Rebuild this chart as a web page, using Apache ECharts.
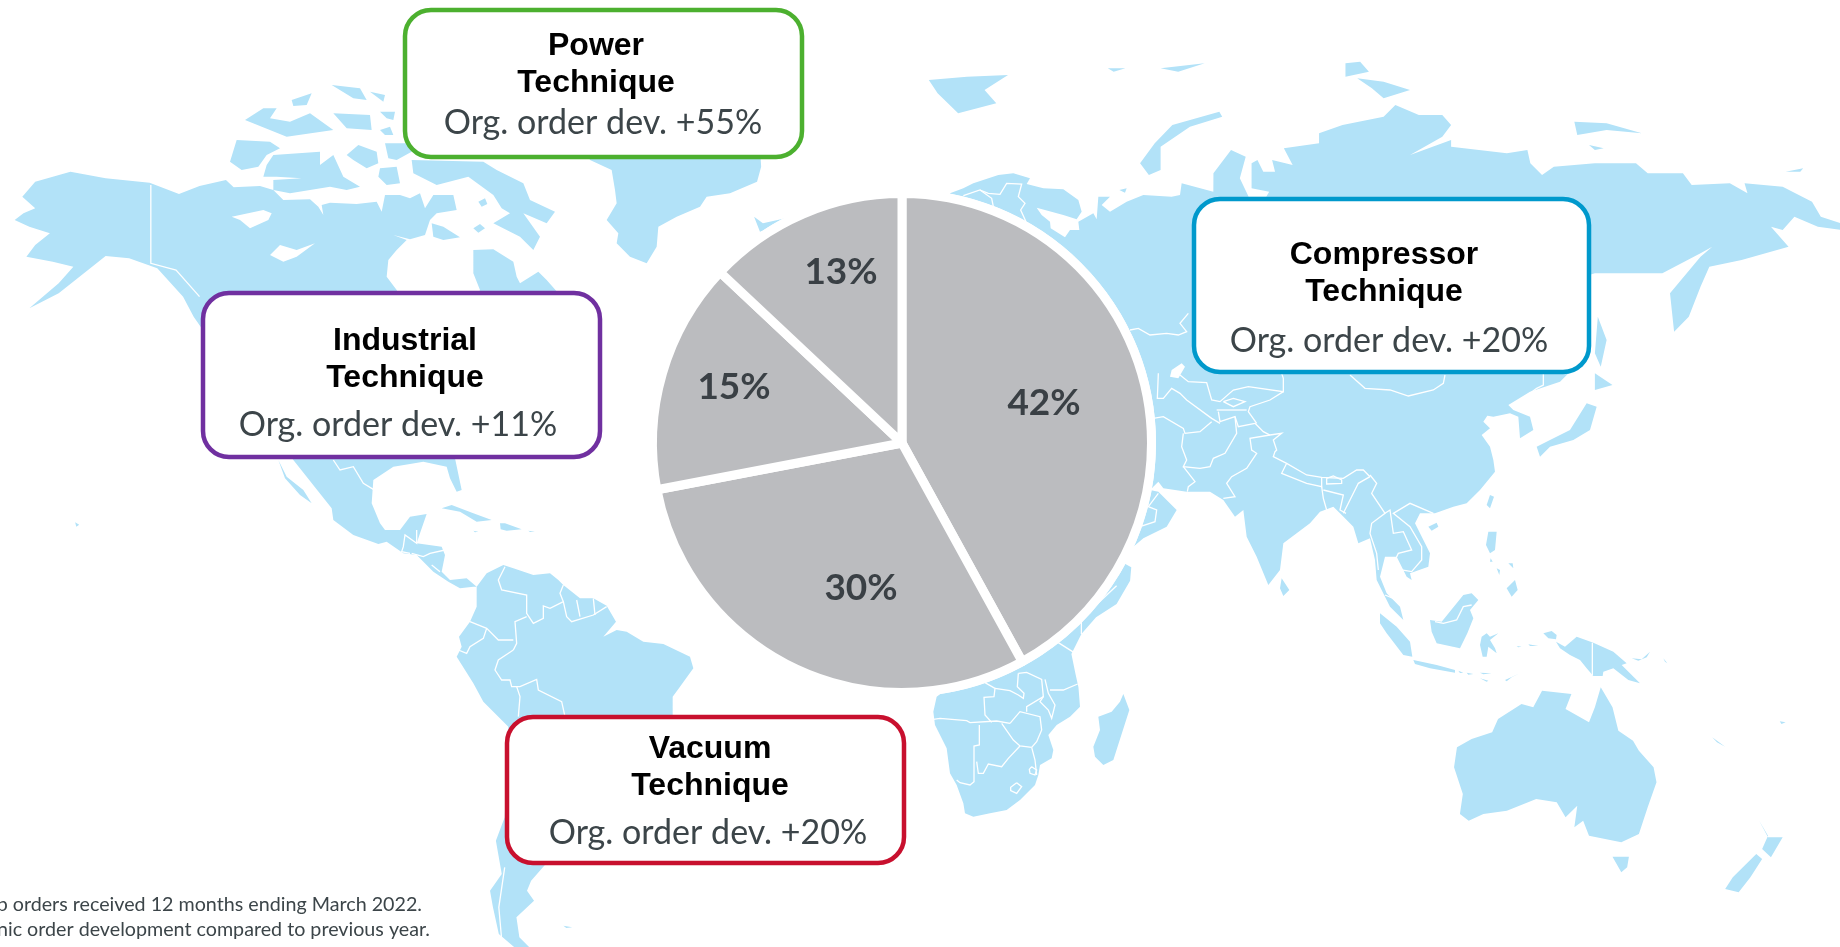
<!DOCTYPE html>
<html>
<head>
<meta charset="utf-8">
<title>Orders by business area</title>
<script src="https://cdn.jsdelivr.net/npm/echarts@6/dist/echarts.min.js"></script>
<style>
    html, body { margin: 0; padding: 0; background: #fff; }
    #chart { width: 1840px; height: 947px; }
</style>
</head>
<body>
<div id="chart"></div>
<script>
// pie
var segments = ['Compressor Technique', 'Vacuum Technique', 'Industrial Technique', 'Power Technique'];
var shares = [42, 30, 15, 13];

// call-out boxes
var boxTitles = [['Power', 'Technique'], ['Industrial', 'Technique'], ['Compressor', 'Technique'], ['Vacuum', 'Technique']];
var boxDev = ['Org. order dev. +55%', 'Org. order dev. +11%', 'Org. order dev. +20%', 'Org. order dev. +20%'];
var notes = ['Share of Group orders received 12 months ending March 2022.', 'Org. order dev. = Organic order development compared to previous year.'];

function t(ox, oy, sx, sy, pts) {
    return pts.map(function (p) { return [p[0] / sx + ox, p[1] / sy + oy]; });
}
function z1(p) { return t(0, 0, 1.704, 3, p); }
function z2(p) { return t(920, 0, 1.704, 3, p); }
function z3(p) { return t(0, 474, 1.704, 3, p); }
function z4(p) { return t(920, 474, 1.704, 3, p); }
function z5(p) { return t(230, 80, 3, 3, p); }
function z6(p) { return t(260, 440, 3, 3, p); }
function z7(p) { return t(1100, 350, 3, 3, p); }
function z8(p) { return t(930, 160, 3, 3, p); }
function z9(p) { return t(1380, 520, 3, 3, p); }
function z10(p) { return t(920, 660, 3, 3, p); }

var northAmerica = [].concat(
    z1([[25,660],[40,640],[60,625],[38,590],[60,545],[120,515],[180,535],[255,548],[305,582],[340,558],[385,540],[400,565]]),
    z5([[10,322],[90,318],[130,330],[160,360],[240,358],[265,380],[280,405],[275,375],[300,368],[380,372],[440,365],[455,395],[465,345],[510,345],[540,355],[570,340],[585,385],[610,345],[670,345],[680,390],[620,400],[600,420],[585,465],[540,478],[490,465],[530,480],[500,510],[475,540],[470,590],[500,630],[530,700],[720,700],[750,630],[730,580],[730,510],[790,508],[850,545],[860,590],[870,610],[925,575],[950,600],[985,640],[1000,700]]),
    z6([[585,55],[605,150],[590,155],[570,115],[560,80],[490,65],[450,72],[400,80],[340,120],[335,190],[360,250],[375,270],[420,270],[450,230],[500,222],[480,280],[470,310],[545,320],[555,345],[545,395],[570,420],[620,415],[650,440],[640,440],[600,445],[565,425],[520,395],[470,345],[430,340],[380,305],[355,312],[280,285],[220,240],[215,205],[100,60]]),
    z1([[330,950],[312,890],[268,805],[220,775],[180,768],[150,810],[100,880],[50,925],[100,850],[125,800],[90,785],[45,770],[60,735],[85,700],[50,680]])
);
var southAmerica = [].concat(
    z6([[650,440],[680,400],[730,375],[760,385],[820,405],[870,400],[895,420],[910,435],[960,475],[1000,475],[1040,497],[1068,545],[1030,590],[1070,570],[1100,575],[1150,605],[1210,612],[1290,650],[1300,685],[1260,740],[1238,770],[1238,830]]),
    z3([[930,1170],[905,1220],[898,1250],[910,1280],[880,1330],[885,1390],[905,1425],[880,1425],[850,1380],[840,1300],[835,1250],[855,1200],[845,1100],[860,1030]]),
    z6([[745,860],[670,785],[640,730],[590,650],[605,620],[597,590],[630,545],[650,500]])
);
var eurasia = [].concat(
    z8([[60,100],[100,85],[130,70],[205,45],[250,40],[300,55],[290,72],[340,85],[400,88],[445,120],[455,155],[440,178],[400,165],[320,143],[335,165],[360,185],[362,205],[405,232],[420,210],[448,210],[445,185],[490,160],[500,178],[505,110],[540,110],[515,135],[540,155],[590,125],[640,105],[725,110],[750,105],[755,70],[850,95]]),
    z2([[500,520],[530,450],[555,470],[545,535],[560,590],[590,590],[595,575],[565,565],[565,490],[575,480],[585,515],[605,515],[600,480],[635,495],[620,445],[680,430],[680,400],[720,375],[790,350],[810,315],[850,345],[890,345],[905,375],[890,410],[835,465],[905,420],[905,440],[1000,460],[1035,450],[1040,490],[1060,525],[1080,500],[1150,490],[1220,490],[1240,520],[1300,520],[1315,555],[1380,550],[1410,580],[1405,550],[1470,560],[1520,605],[1535,650],[1570,670],[1570,690],[1530,680],[1490,650],[1470,690],[1450,680],[1480,740],[1400,780],[1345,800],[1330,860],[1310,950],[1285,995],[1278,880],[1330,770],[1350,740],[1330,760],[1265,820],[1150,820],[1130,830],[1130,1100]]),
    z7([[1410,65],[1380,95],[1335,110],[1290,125],[1225,165],[1240,180],[1290,200],[1300,240],[1260,265],[1255,200],[1230,190],[1180,200],[1120,190],[1190,155],[1150,215],[1170,235],[1145,255],[1170,290],[1180,330],[1185,365],[1140,420],[1100,460],[1060,470],[1005,490],[960,490],[945,520],[990,610],[985,650],[930,670],[935,690],[920,680],[890,620],[855,620],[840,680],[860,730],[900,770],[910,810],[870,770],[830,690],[825,630],[810,565],[775,580],[760,530],[720,490],[700,470],[660,485],[630,520],[550,580],[540,660],[505,705],[470,620],[440,560],[430,480],[405,500],[370,450],[330,425],[260,425],[190,415],[175,395],[150,420],[175,425],[230,480],[200,530],[130,565],[100,590]]),
    [[902, 442]]
);
var africa = [[902, 442]].concat(
    z4([[360,280],[358,320],[335,390],[300,430],[275,480],[258,540],[265,600],[270,640]]),
    z10([[475,80],[480,140],[450,170],[410,195],[385,225],[400,270],[395,295],[360,315],[355,345],[345,375],[300,420],[260,450],[210,460],[160,470],[135,460],[130,430],[110,375],[90,340],[80,265],[45,195],[40,155],[50,110],[70,95]])
);
var greenland = [].concat(
    z5([[1080,240],[1145,270],[1155,330],[1160,370],[1130,420],[1165,460],[1160,490],[1200,530],[1250,550],[1280,500],[1285,440],[1340,410],[1410,380],[1430,350],[1500,340]]),
    z1([[1290,545],[1297,500],[1290,300],[1000,300],[1005,480]])
);
var australia = z4([[1160,640],[1180,700],[1190,770],[1215,800],[1225,830],[1250,880],[1255,925],[1240,1000],[1225,1080],[1195,1105],[1140,1085],[1130,1040],[1115,1060],[1120,995],[1100,1030],[1085,985],[1050,975],[1000,1010],[960,1020],[935,1040],[920,1020],[925,960],[910,880],[915,820],[940,795],[975,775],[985,735],[1025,690],[1045,700],[1060,650],[1110,660],[1100,705],[1140,745],[1150,700]]);
var islands = [
    // canadian arctic
    z5([[0,245],[20,180],[120,185],[150,205],[110,225],[85,260],[35,270]]),
    z5([[110,255],[130,225],[270,215],[270,255],[310,225],[340,290],[390,320],[350,330],[300,320],[180,340],[130,330],[130,300],[215,295],[140,290],[100,290]]),
    z5([[350,225],[385,195],[440,215],[445,250],[410,265],[370,240]]),
    z5([[450,265],[500,260],[510,310],[470,315],[445,290]]),
    z5([[45,120],[100,85],[140,85],[120,115],[180,125],[240,100],[310,150],[170,170]]),
    z5([[185,60],[245,40],[230,75],[190,78]]),
    z5([[305,15],[390,25],[410,60],[370,55]]),
    z5([[420,35],[465,45],[460,65]]),
    z5([[450,95],[495,95],[490,120],[470,115]]),
    z5([[450,150],[480,140],[490,165],[465,165]]),
    z5([[310,100],[420,105],[425,150],[350,145]]),
    z5([[465,190],[530,190],[545,215],[500,240],[475,235]]),
    z5([[545,240],[760,245],[800,270],[880,310],[900,360],[975,395],[950,430],[880,400],[930,470],[910,510],[870,470],[790,430],[840,400],[815,385],[790,345],[715,290],[620,315],[550,280]]),
    z5([[745,365],[765,355],[772,372],[755,380]]),
    z5([[730,445],[750,432],[765,445],[745,458]]),
    z5([[605,430],[640,440],[690,472],[640,480],[610,470]]),
    // baja, caribbean and atlantic
    z6([[55,60],[80,110],[130,150],[155,190],[120,165],[75,115]]),
    z6([[545,205],[575,195],[640,220],[695,240],[650,245],[600,215]]),
    z6([[720,250],[735,250],[785,268],[740,272],[722,268]]),
    z6([[640,272],[655,275],[645,277]]),
    z6([[805,272],[825,275],[810,276]]),
    z3([[128,145],[135,152],[130,158]]),
    z3([[960,1355],[975,1360],[965,1362]]),
    z1([[1285,650],[1300,670],[1350,650],[1330,675],[1295,695]]),
    // arctic russia
    z2([[15,240],[80,230],[150,225],[110,270],[130,310],[65,340],[30,280]]),
    z2([[320,205],[350,205],[330,215]]),
    z2([[410,205],[485,190],[440,215]]),
    z2([[375,490],[400,430],[430,375],[510,335],[515,350],[460,380],[410,440],[410,510],[390,525]]),
    z2([[725,190],[750,185],[765,215],[725,230]]),
    z2([[745,235],[790,245],[835,270],[790,295],[770,265]]),
    z2([[1115,365],[1170,370],[1230,400],[1170,390],[1120,405]]),
    z2([[1475,515],[1505,505],[1500,515]]),
    z2([[1140,435],[1165,445],[1150,450]]),
    z8([[568,90],[590,85],[585,98]]),
    // east asia
    z2([[1155,950],[1170,1020],[1160,1100],[1150,1060]]),
    z2([[1150,1120],[1180,1155],[1150,1170]]),
    z7([[1310,290],[1350,270],[1410,240],[1460,160],[1490,170],[1470,240],[1420,270],[1350,290],[1320,320]]),
    z7([[1170,435],[1182,440],[1170,475],[1160,465]]),
    z7([[985,530],[1010,518],[1015,530],[995,542]]),
    z7([[545,685],[568,720],[550,738],[540,715]]),
    // south east asia
    z9([[325,35],[350,35],[345,90],[330,100],[318,75]]),
    z9([[380,205],[405,180],[413,210],[395,230]]),
    z9([[350,145],[360,150],[358,165]]),
    z9([[385,130],[398,130],[400,145]]),
    z9([[332,115],[338,125],[330,125]]),
    z9([[150,300],[185,305],[250,225],[275,220],[295,240],[270,270],[280,295],[262,340],[240,385],[170,370],[155,335]]),
    z9([[0,280],[50,320],[90,365],[97,410],[70,405],[20,340],[0,310]]),
    z9([[100,420],[170,435],[225,450],[225,458],[150,445],[105,432]]),
    z9([[235,452],[250,458],[240,459]]),
    z9([[260,458],[280,462],[265,464]]),
    z9([[300,458],[335,460],[310,463]]),
    z9([[300,475],[325,482],[320,485]]),
    z9([[375,480],[420,460],[395,472],[380,484]]),
    z9([[305,350],[320,340],[330,350],[355,340],[330,360],[345,385],[350,400],[325,380],[320,410],[308,410],[300,375]]),
    z9([[490,340],[515,333],[530,345],[528,358],[505,355]]),
    z9([[528,365],[555,380],[590,350],[640,368],[700,395],[740,430],[725,435],[780,490],[745,480],[700,445],[670,455],[668,468],[640,468],[620,445],[600,420],[570,405],[540,385]]),
    z9([[755,415],[785,418],[810,395],[800,412],[775,422]]),
    z9([[850,415],[862,430],[855,425]]),
    z9([[445,373],[475,378],[450,378]]),
    z9([[410,378],[425,380],[415,382]]),
    // oceania and indian ocean
    z4([[1180,1148],[1208,1148],[1205,1180],[1195,1195]]),
    z4([[1372,1245],[1385,1210],[1425,1140],[1435,1155],[1415,1210],[1395,1255]]),
    z4([[1430,1040],[1445,1090],[1470,1090],[1450,1150],[1435,1125],[1445,1085]]),
    z4([[1350,790],[1372,818],[1358,805]]),
    z4([[1465,742],[1475,745],[1468,750]]),
    z10([[610,102],[628,150],[580,300],[550,315],[525,290],[520,260],[540,210],[535,170],[575,155],[600,125]])
];
var lakes = [
    z5([[5,410],[100,390],[125,400],[115,420],[60,445],[30,420]]),
    z5([[120,525],[150,495],[200,510],[255,490],[200,530],[160,545]]),
    z7([[215,60],[245,40],[255,50],[235,85],[210,80]])
];
var borders = [
    z1([[257,555],[257,790],[300,810],[340,890]]),
    z6([[220,60],[240,90],[280,80],[310,130],[340,148]]),
    z6([[470,270],[470,310],[435,285],[430,320],[425,335],[450,340]]),
    z6([[455,340],[490,350],[510,340],[555,330]]),
    z6([[515,375],[540,395]]),
    z6([[735,380],[715,420],[725,450],[800,465],[800,520],[820,550],[850,535],[850,498],[870,505],[910,485],[900,460],[910,435]]),
    z6([[910,485],[920,530],[935,545],[1000,525],[1040,500]]),
    z6([[950,480],[960,530]]),
    z6([[1000,475],[1005,525]]),
    z6([[800,530],[765,545],[770,610],[760,630]]),
    z6([[630,545],[680,565],[715,600],[760,600]]),
    z6([[680,565],[670,595],[630,620],[620,640],[595,630]]),
    z6([[760,630],[715,660],[705,690],[725,720],[750,720],[755,740],[780,740],[830,718],[835,750],[905,785],[915,830]]),
    z6([[770,740],[780,770],[775,830]]),
    z3([[860,1180],[850,1300],[855,1400]]),
    z8([[100,107],[150,90],[185,115],[190,140]]),
    z8([[150,90],[175,100],[210,103],[230,70],[275,72],[265,110],[285,130],[272,150],[288,185]]),
    z8([[600,510],[625,505],[660,525],[710,520],[745,525],[770,515],[750,490],[775,460]]),
    z7([[750,75],[795,115],[870,120],[925,138],[1000,120],[1030,100],[1035,75]]),
    z7([[1235,170],[1310,115],[1330,105],[1330,70]]),
    z7([[175,70],[172,145],[190,145],[215,115],[240,130],[260,150],[335,205],[360,220]]),
    z7([[240,75],[265,95],[320,98],[335,150],[360,155],[400,120],[445,110],[550,125],[550,85],[545,70]]),
    z7([[550,125],[510,150],[450,170],[445,185],[470,220]]),
    z7([[350,180],[440,180]]),
    z7([[370,155],[400,145],[435,155],[400,170],[370,155]]),
    z7([[355,185],[360,215],[405,200],[415,230],[465,220]]),
    z7([[160,205],[190,200],[250,235],[255,250],[300,245],[335,215]]),
    z7([[250,250],[245,290],[260,330],[250,350],[300,355],[330,350],[340,325],[375,310],[410,250],[405,200]]),
    z7([[250,350],[285,395],[265,410],[262,425]]),
    z7([[465,220],[490,245],[510,255],[545,250],[520,270],[530,300],[525,305],[520,320],[560,340],[620,375],[665,382],[730,385],[770,360],[790,360],[810,380]]),
    z7([[510,255],[450,265],[455,300],[470,310],[440,355],[395,380],[380,400],[405,440],[370,445]]),
    z7([[560,340],[545,370],[620,400],[665,410],[665,382]]),
    z7([[680,385],[700,378],[725,390],[725,400],[680,402],[680,385]]),
    z7([[665,410],[670,445],[680,480]]),
    z7([[670,420],[730,435],[720,480],[738,490]]),
    z7([[810,375],[830,400],[815,430],[855,490],[815,520],[810,550],[830,610],[835,660]]),
    z7([[730,490],[760,430],[775,400],[810,380]]),
    z7([[855,490],[870,480],[880,550],[910,545],[935,600],[895,610],[888,625],[905,660],[935,665],[965,630],[965,590],[930,530],[880,490],[930,460],[1000,490]]),
    z7([[855,735],[880,745]]),
    z7([[175,430],[145,470],[170,480],[165,515],[120,530]]),
    z9([[165,305],[190,310],[230,300],[250,260],[275,255]]),
    z9([[637,368],[637,465]]),
    z4([[235,505],[262,535]]),
    z4([[275,440],[275,480]]),
    z4([[335,335],[305,385]]),
    z10([[40,178],[60,175],[140,182],[150,188],[230,183],[270,190]]),
    z10([[195,68],[225,85],[222,110],[192,112],[195,165],[215,187]]),
    z10([[178,195],[178,255],[162,258],[162,365],[150,375],[120,368],[110,360]]),
    z10([[170,305],[175,340],[190,340],[205,312],[245,320],[265,295],[300,258]]),
    z10([[245,190],[280,240],[300,258],[335,262]]),
    z10([[270,190],[300,155],[360,170],[365,210],[350,245],[335,262]]),
    z10([[335,262],[345,300],[350,345]]),
    z10([[335,320],[350,330],[345,345],[330,340],[328,328],[335,320]]),
    z10([[290,368],[305,380],[290,400],[272,392],[272,382],[290,368]]),
    z10([[295,40],[320,37],[365,58],[370,110],[320,140],[320,155]]),
    z10([[295,40],[292,80],[312,100],[310,115],[295,105],[270,92],[225,85]]),
    z10([[375,58],[385,100],[405,135],[395,175],[385,150],[360,125],[370,110]]),
    z10([[390,90],[430,90],[473,72]])
];

function flip(line) {
    return line.map(function (p) { return [p[0], -p[1]]; });
}
function feature(name, polys) {
    return {
        type: 'Feature',
        properties: {name: name},
        geometry: {type: 'MultiPolygon', coordinates: polys.map(function (p) { return [flip(p.concat([p[0]]))]; })}
    };
}

echarts.registerMap('world', {
    type: 'FeatureCollection',
    features: [
        feature('land', [northAmerica, southAmerica, eurasia, africa, greenland, australia].concat(islands)),
        feature('lake', lakes)
    ]
});

var myChart = echarts.init(document.getElementById('chart'));

// call-out layout: frame, then centres of the two title lines and the dev line
var frames = [
    {x: 405, y: 10, w: 397, h: 147, color: '#4CB02F', titleX: 596, devX: 603, ys: [46, 83, 123]},
    {x: 203, y: 293, w: 397, h: 164, color: '#7030A0', titleX: 405, devX: 398, ys: [341, 378, 425]},
    {x: 1194, y: 199, w: 395, h: 173, color: '#0099CC', titleX: 1384, devX: 1389, ys: [255, 292, 341]},
    {x: 507, y: 717, w: 397, h: 146, color: '#C8102E', titleX: 710, devX: 708, ys: [749, 786, 833]}
];
var labelSpots = [[1044, 403], [861, 588], [734, 387], [841, 272]];

var elements = [{
    type: 'circle',
    z: 1,
    silent: true,
    shape: {cx: 902, cy: 443, r: 254},
    style: {fill: '#fff'}
}];
frames.forEach(function (f, i) {
    elements.push({
        type: 'rect',
        z: 10,
        silent: true,
        shape: {x: f.x, y: f.y, width: f.w, height: f.h, r: 26},
        style: {fill: '#fff', stroke: f.color, lineWidth: 4.5}
    });
    boxTitles[i].forEach(function (line, j) {
        elements.push({
            type: 'text',
            z: 11,
            silent: true,
            style: {
                x: f.titleX, y: f.ys[j], text: line, fill: '#000',
                font: 'bold 32px "Liberation Sans", Arial, sans-serif',
                textAlign: 'center', textVerticalAlign: 'middle'
            }
        });
    });
    elements.push({
        type: 'text',
        z: 11,
        silent: true,
        style: {
            x: f.devX, y: f.ys[2], text: boxDev[i], fill: '#3C4549',
            font: '34px Lato, "Open Sans", sans-serif',
            textAlign: 'center', textVerticalAlign: 'middle'
        }
    });
});
notes.forEach(function (line, i) {
    elements.push({
        type: 'text',
        z: 11,
        silent: true,
        style: {
            x: i === 0 ? 422 : 430, y: 905 + i * 25, text: line, fill: '#3C4549',
            font: '19.7px Lato, "Open Sans", sans-serif',
            textAlign: 'right', textVerticalAlign: 'middle'
        }
    });
});

var option = {
    animation: false,
    backgroundColor: '#fff',
    geo: {
        map: 'world',
        silent: true,
        roam: false,
        aspectScale: 1,
        boundingCoords: [[0, 0], [1840, -947]],
        left: 0,
        top: 0,
        width: 1840,
        height: 947,
        z: 0,
        label: {show: false},
        itemStyle: {areaColor: '#B2E2F8', borderWidth: 0},
        regions: [{name: 'lake', itemStyle: {areaColor: '#fff'}}]
    },
    graphic: {elements: elements},
    series: [
        {
            type: 'lines',
            coordinateSystem: 'geo',
            polyline: true,
            silent: true,
            z: 1,
            lineStyle: {color: '#fff', width: 1.3, opacity: 1},
            data: borders.map(function (line) { return {coords: flip(line)}; })
        },
        {
            type: 'pie',
            z: 5,
            silent: true,
            center: [902, 443],
            radius: [0, 249.5],
            startAngle: 90,
            clockwise: true,
            avoidLabelOverlap: false,
            itemStyle: {color: '#BBBCBF', borderColor: '#fff', borderWidth: 9},
            label: {
                show: true,
                position: 'inside',
                formatter: '{c}%',
                color: '#3A4045',
                fontFamily: 'Lato, "Open Sans", sans-serif',
                fontWeight: 'bold',
                fontSize: 37
            },
            labelLine: {show: false},
            labelLayout: function (params) {
                return {x: labelSpots[params.dataIndex][0], y: labelSpots[params.dataIndex][1], align: 'center', verticalAlign: 'middle'};
            },
            data: segments.map(function (name, i) { return {name: name, value: shares[i]}; })
        }
    ]
};

myChart.setOption(option);
</script>
</body>
</html>
